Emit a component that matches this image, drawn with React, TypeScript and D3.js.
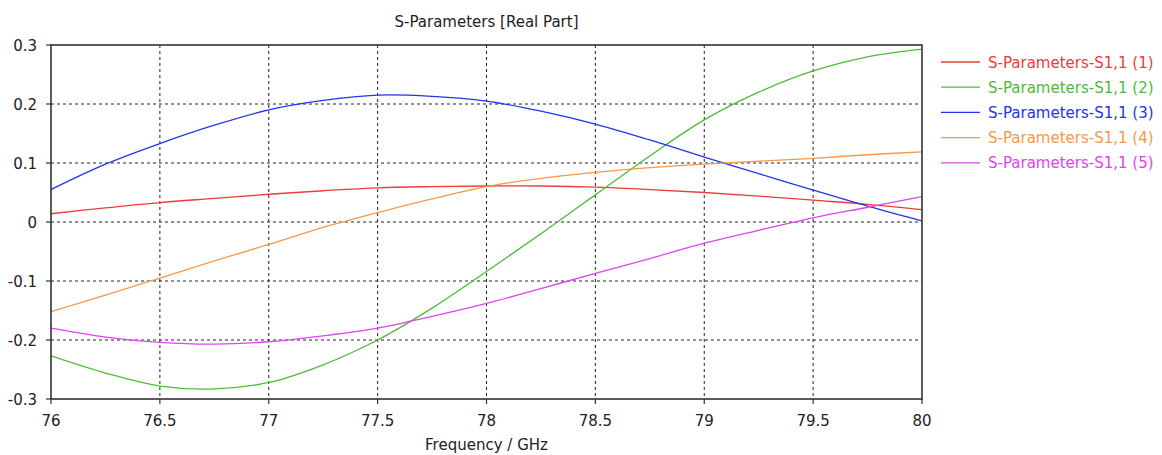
import React from "react";
import * as d3 from "d3";

// frequency samples (GHz)
const freq = [76, 76.25, 76.5, 76.75, 77, 77.25, 77.5, 77.75, 78, 78.25, 78.5, 78.75, 79, 79.25, 79.5, 79.75, 80];

const s1 = [0.014, 0.024, 0.033, 0.040, 0.047, 0.053, 0.058, 0.060, 0.061, 0.061, 0.059, 0.055, 0.050, 0.044, 0.037, 0.030, 0.021];
const s2 = [-0.227, -0.256, -0.278, -0.283, -0.272, -0.242, -0.200, -0.146, -0.084, -0.020, 0.046, 0.112, 0.173, 0.220, 0.256, 0.280, 0.293];
const s3 = [0.055, 0.098, 0.133, 0.164, 0.190, 0.206, 0.215, 0.213, 0.205, 0.188, 0.166, 0.139, 0.110, 0.082, 0.054, 0.027, 0.002];
const s4 = [-0.152, -0.124, -0.095, -0.066, -0.038, -0.009, 0.016, 0.039, 0.060, 0.074, 0.084, 0.092, 0.098, 0.103, 0.108, 0.114, 0.119];
const s5 = [-0.180, -0.195, -0.204, -0.207, -0.203, -0.193, -0.180, -0.160, -0.138, -0.113, -0.087, -0.062, -0.036, -0.014, 0.007, 0.025, 0.043];

const seriesNames = ["S-Parameters-S1,1 (1)", "S-Parameters-S1,1 (2)", "S-Parameters-S1,1 (3)", "S-Parameters-S1,1 (4)", "S-Parameters-S1,1 (5)"];
const seriesColors = ["#ee3b3b", "#4cbb3a", "#2233ee", "#f5994a", "#dd44ee"];
const seriesValues = [s1, s2, s3, s4, s5];

const xTicks = [76, 76.5, 77, 77.5, 78, 78.5, 79, 79.5, 80];
const yTicks = [-0.3, -0.2, -0.1, 0, 0.1, 0.2, 0.3];

const W = 1162;
const H = 455;
const margin = { top: 45, right: 240, bottom: 56, left: 51 };
const font = "'DejaVu Sans', Verdana, sans-serif";

export default function App() {
  const x = d3.scaleLinear().domain([76, 80]).range([margin.left, W - margin.right]);
  const y = d3.scaleLinear().domain([-0.3, 0.3]).range([H - margin.bottom, margin.top]);

  const line = d3
    .line<number>()
    .x((_, i) => x(freq[i]))
    .y((d) => y(d))
    .curve(d3.curveCatmullRom);

  const x0 = x(76), x1 = x(80), y0 = y(-0.3), y1 = y(0.3);

  return (
    <svg width={W} height={H} style={{ position: "absolute", left: 0, top: 0, background: "#fff" }}>
      <text x={(x0 + x1) / 2} y={27} textAnchor="middle" fontFamily={font} fontSize={15} fill="#222">
        S-Parameters [Real Part]
      </text>

      {/* grid */}
      {xTicks.slice(1, -1).map((t) => (
        <line key={"gx" + t} x1={x(t)} x2={x(t)} y1={y1} y2={y0} stroke="#222" strokeDasharray="3,3" />
      ))}
      {yTicks.slice(1, -1).map((t) => (
        <line key={"gy" + t} x1={x0} x2={x1} y1={y(t)} y2={y(t)} stroke="#222" strokeDasharray="3,3" />
      ))}

      {/* curves */}
      <g clipPath="url(#plotclip)">
        {seriesValues.map((vals, i) => (
          <path key={i} d={line(vals) || ""} fill="none" stroke={seriesColors[i]} strokeWidth={1.3} />
        ))}
      </g>
      <defs>
        <clipPath id="plotclip">
          <rect x={x0} y={y1} width={x1 - x0} height={y0 - y1} />
        </clipPath>
      </defs>

      {/* frame */}
      <rect x={x0} y={y1} width={x1 - x0} height={y0 - y1} fill="none" stroke="#333" strokeWidth={1.6} />

      {/* ticks + labels */}
      {yTicks.map((t) => (
        <g key={"ty" + t}>
          <line x1={x0 - 5} x2={x0} y1={y(t)} y2={y(t)} stroke="#333" strokeWidth={1.2} />
          <text x={37} y={y(t) + 5.5} textAnchor="end" fontFamily={font} fontSize={15} fill="#222">
            {t === 0 ? "0" : String(t)}
          </text>
        </g>
      ))}
      {xTicks.map((t) => (
        <g key={"tx" + t}>
          <line x1={x(t)} x2={x(t)} y1={y0} y2={y0 + 5} stroke="#333" strokeWidth={1.2} />
          <text x={x(t)} y={426} textAnchor="middle" fontFamily={font} fontSize={15} fill="#222">
            {String(t)}
          </text>
        </g>
      ))}
      <text x={(x0 + x1) / 2} y={450} textAnchor="middle" fontFamily={font} fontSize={15} fill="#222">
        Frequency / GHz
      </text>

      {/* legend */}
      {seriesNames.map((name, i) => {
        const ly = 62 + i * 25.2;
        return (
          <g key={name}>
            <line x1={941} x2={980} y1={ly} y2={ly} stroke={seriesColors[i]} strokeWidth={1.3} />
            <text x={988} y={ly + 5.5} fontFamily={font} fontSize={15} fill={seriesColors[i]}>
              {name}
            </text>
          </g>
        );
      })}
    </svg>
  );
}
